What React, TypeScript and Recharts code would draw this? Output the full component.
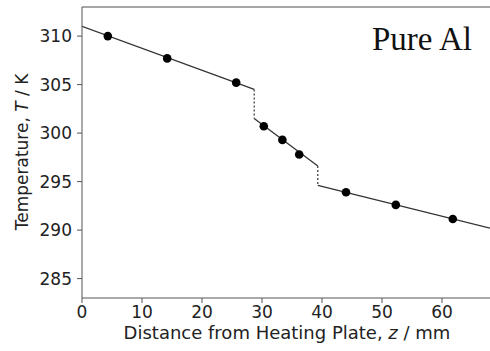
import React from 'react'
import {
  ComposedChart,
  Line,
  Scatter,
  XAxis,
  YAxis,
  ReferenceLine,
  Label,
} from 'recharts'

// measured thermocouple readings
const measuredZ = [4.3, 14.2, 25.7, 30.3, 33.4, 36.2, 44.0, 52.3, 61.8]
const measuredT = [310.0, 307.7, 305.2, 300.7, 299.3, 297.8, 293.9, 292.6, 291.15]

// fitted profile, solid parts
const fitZ = [
  [0, 28.7],
  [28.7, 39.3],
  [39.3, 68],
]
const fitT = [
  [311.0, 304.5],
  [301.5, 296.6],
  [294.6, 290.2],
]

// jumps at the interfaces, dashed
const jumpZ = [28.7, 39.3]
const jumpT = [
  [304.5, 301.5],
  [296.6, 294.6],
]

const xTicks = [0, 10, 20, 30, 40, 50, 60]
const yTicks = [285, 290, 295, 300, 305, 310]

const points = measuredZ.map((z, i) => ({ z, T: measuredT[i] }))
const fitLines = fitZ.map((zs, i) => zs.map((z, j) => ({ z, T: fitT[i][j] })))
const jumpLines = jumpZ.map((z, i) => jumpT[i].map((T) => ({ z, T })))

const AXIS = '#555'
const FONT = 'DejaVu Sans, sans-serif'

const YLabel = () => (
  <text
    x={22}
    y={152}
    transform="rotate(-90 22 152)"
    textAnchor="middle"
    dominantBaseline="central"
    fontFamily={FONT}
    fontSize={17}
    fill="#222"
  >
    Temperature, <tspan fontStyle="italic">T</tspan> / K
  </text>
)

const XLabel = () => (
  <text x={287} y={339} textAnchor="middle" fontFamily={FONT} fontSize={18} fill="#222">
    Distance from Heating Plate, <tspan fontStyle="italic">z</tspan> / mm
  </text>
)

export default function App() {
  return (
    <div style={{ position: 'absolute', left: 0, top: 0, width: 490, height: 351, background: '#fff' }}>
      <ComposedChart width={490} height={351} margin={{ top: 7, right: 0, left: 0, bottom: 0 }}>
        <XAxis
          dataKey="z"
          type="number"
          domain={[0, 68]}
          ticks={xTicks}
          height={53}
          allowDataOverflow
          stroke={AXIS}
          tickSize={5}
          tickMargin={3}
          tick={{ fill: '#222', fontSize: 17, fontFamily: FONT }}
        >
          <Label content={<XLabel />} />
        </XAxis>
        <YAxis
          dataKey="T"
          type="number"
          domain={[283, 313]}
          ticks={yTicks}
          width={82}
          allowDataOverflow
          stroke={AXIS}
          tickSize={5}
          tickMargin={5}
          tick={{ fill: '#222', fontSize: 17, fontFamily: FONT }}
        >
          <Label content={<YLabel />} />
        </YAxis>
        <ReferenceLine y={313} stroke="#888" strokeWidth={1.5} />
        {fitLines.map((d, i) => (
          <Line
            key={`fit-${i}`}
            data={d}
            dataKey="T"
            type="linear"
            stroke="#333"
            strokeWidth={1.3}
            dot={false}
            activeDot={false}
            isAnimationActive={false}
          />
        ))}
        {jumpLines.map((d, i) => (
          <Line
            key={`jump-${i}`}
            data={d}
            dataKey="T"
            type="linear"
            stroke="#333"
            strokeWidth={1.2}
            strokeDasharray="2 2"
            dot={false}
            activeDot={false}
            isAnimationActive={false}
          />
        ))}
        <Scatter data={points} dataKey="T" fill="#000" isAnimationActive={false} shape={(p: any) => <circle cx={p.cx} cy={p.cy} r={4.3} fill="#000" />} />
      </ComposedChart>
      <div
        style={{
          position: 'absolute',
          left: 372,
          top: 19,
          fontFamily: 'Liberation Serif, Times New Roman, serif',
          fontSize: 33,
          lineHeight: '40px',
          color: '#111',
          whiteSpace: 'nowrap',
        }}
      >
        Pure Al
      </div>
    </div>
  )
}
